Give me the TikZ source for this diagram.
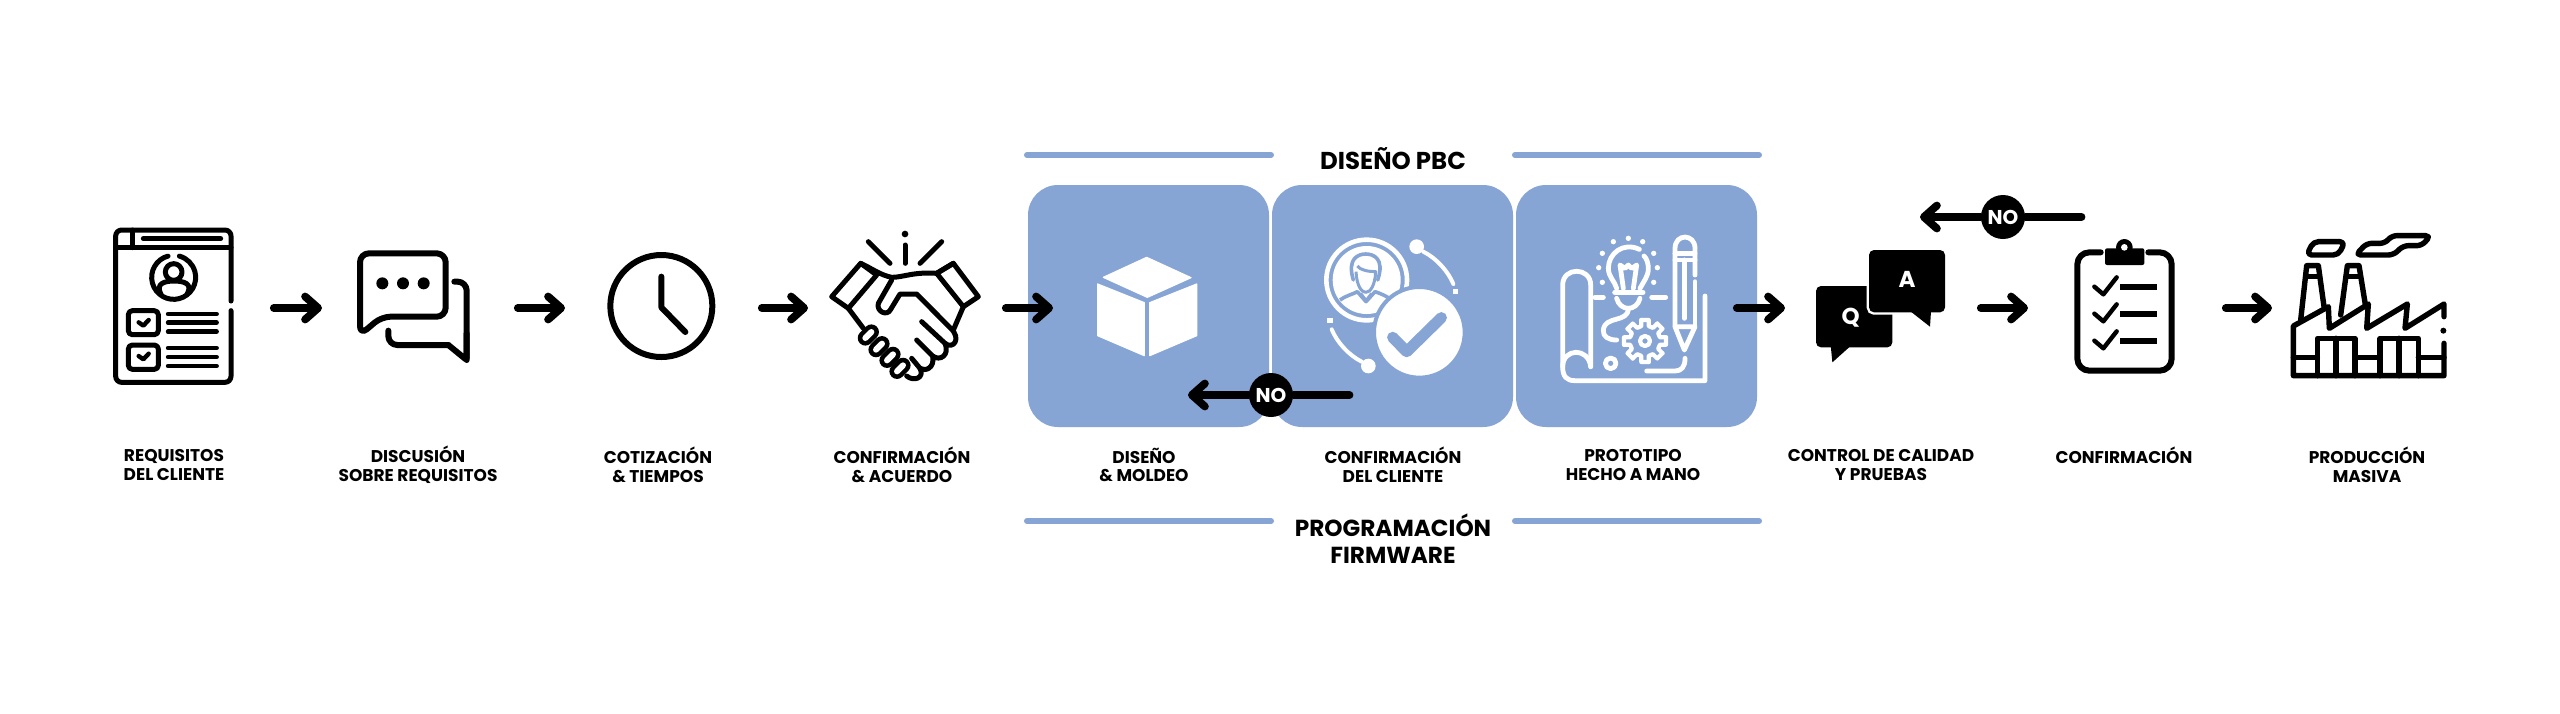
\documentclass[tikz,border=0pt]{standalone}
\usepackage{fontspec}
\setmainfont{Poppins}
\usetikzlibrary{arrows.meta}
\definecolor{pbc}{HTML}{87A5D4}
\tikzset{
  stage/.style={draw=none,fill=pbc,rounded corners=15pt,minimum width=120.5pt,minimum height=121pt,inner sep=0pt,outer sep=0pt},
  slot/.style={inner sep=0pt,outer sep=0pt,minimum height=10pt},
  flow/.style={line width=3.9pt,line cap=round,shorten <=1.9pt,-{Straight Barb[round,length=6.5pt,width=11.5pt]}},
  flowline/.style={line width=3.9pt,line cap=round},
  nobadge/.style={circle,fill=black,text=white,font=\bfseries\fontsize{10}{10}\selectfont,minimum size=22pt,inner sep=0pt},
  steplabel/.style={font=\bfseries\fontsize{8.5}{9.4}\selectfont,align=center,text=black,inner sep=0pt},
  grouptop/.style={font=\bfseries\fontsize{12.2}{13.5}\selectfont,align=center,text=black,inner sep=0pt},
  groupbot/.style={font=\bfseries\fontsize{11.6}{13.5}\selectfont,align=center,text=black,inner sep=0pt},
  groupbar/.style={line width=3pt,color=pbc,line cap=round},
  ico/.style={line cap=round,line join=round,line width=3pt,draw=black},
  icow/.style={line cap=round,line join=round,line width=2.4pt,draw=white},
  zoomA/.style={shift={(40pt,-100pt)},x=0.166667pt,y=-0.166667pt},
  zoomB/.style={shift={(280pt,-100pt)},x=0.166667pt,y=-0.166667pt},
  zoomC/.style={shift={(505pt,-65pt)},x=0.166667pt,y=-0.166667pt},
  zoomD/.style={shift={(750pt,-85pt)},x=0.166667pt,y=-0.166667pt},
  zoomE/.style={shift={(880pt,-90pt)},x=0.166667pt,y=-0.166667pt},
  zoomF/.style={shift={(1100pt,-100pt)},x=0.166667pt,y=-0.166667pt},
}
\begin{document}
\begin{tikzpicture}[x=0.5pt,y=-0.5pt]
\useasboundingbox[fill=white] (0,0) rectangle (2560,713);
% stages
\node[stage] (box1) at (1148.5,306) {};
\node[stage] (box2) at (1392.5,306) {};
\node[stage] (box3) at (1636.5,306) {};
% group bars and titles
\coordinate (t1a) at (1027,155); \coordinate (t1b) at (1271,155);
\coordinate (t2a) at (1515,155); \coordinate (t2b) at (1759,155);
\coordinate (b1a) at (1027,521); \coordinate (b1b) at (1271,521);
\coordinate (b2a) at (1515,521); \coordinate (b2b) at (1759,521);
\draw[groupbar] (t1a) -- (t1b);
\draw[groupbar] (t2a) -- (t2b);
\draw[groupbar] (b1a) -- (b1b);
\draw[groupbar] (b2a) -- (b2b);
\node[grouptop] (gtop) at (1393,159) {DISEÑO PBC};
\node[groupbot] (gbot) at (1393,539) {PROGRAMACIÓN\\FIRMWARE};
% labels
\node[steplabel] (l1) at (174,465) {REQUISITOS\\DEL CLIENTE};
\node[steplabel] (l2) at (418,465) {DISCUSIÓN\\SOBRE REQUISITOS};
\node[steplabel] (l3) at (658,465) {COTIZACIÓN\\\& TIEMPOS};
\node[steplabel] (l4) at (902,465) {CONFIRMACIÓN\\\& ACUERDO};
\node[steplabel] (l5) at (1144,465) {DISEÑO\\\& MOLDEO};
\node[steplabel] (l6) at (1393,465) {CONFIRMACIÓN\\DEL CLIENTE};
\node[steplabel] (l7) at (1633,465) {PROTOTIPO\\HECHO A MANO};
\node[steplabel] (l8) at (1881,465) {CONTROL DE CALIDAD\\Y PRUEBAS};
\node[steplabel] (l9) at (2124,455) {CONFIRMACIÓN};
\node[steplabel] (l10) at (2367,465) {PRODUCCIÓN\\MASIVA};
% slots holding the icons; arrows run from slot to slot
\node[slot,minimum width=105pt] (s1) at (165,308) {};
\node[slot,minimum width=96pt] (s2) at (418,308) {};
\node[slot,minimum width=96.5pt] (s3) at (661.5,308) {};
\node[slot,minimum width=97pt] (s4) at (905,308) {};
\node[slot,minimum width=96pt] (s8) at (1881,308) {};
\node[slot,minimum width=97pt] (s9) at (2125,308) {};
\node[slot,minimum width=100pt] (s10) at (2372,308) {};
\coordinate (s5in) at (1053,308);
\coordinate (s7out) at (1733,308);
\draw[flow] (s1.east) -- (s2.west);
\draw[flow] (s2.east) -- (s3.west);
\draw[flow] (s3.east) -- (s4.west);
\draw[flow] (s4.east) -- (s5in);
\draw[flow] (s7out) -- (s8.west);
\draw[flow] (s8.east) -- (s9.west);
\draw[flow] (s9.east) -- (s10.west);
% icon 1 and 2
\begin{scope}[zoomA,ico,line width=2.5pt]
  \draw[rounded corners=3pt] (453,303) -- (453,90) -- (107,90) -- (107,547) -- (453,547) -- (453,332);
  \draw (107,143) -- (453,143);
  \draw (158,90) -- (158,143);
  \draw (190,116) -- (422,116);
  \draw (281,232) ++(-75:66) arc[start angle=-75,end angle=30,radius=66];
  \draw (281,232) ++(-105:66) arc[start angle=-105,end angle=-330,radius=66];
  \draw (281,216) circle[radius=25];
  \draw (243,283) .. controls (225,250) and (255,243) .. (282,243) .. controls (310,243) and (340,250) .. (321,283);
  \draw[rounded corners=2pt] (145,332) rectangle (235,404);
  \draw[rounded corners=2pt] (145,435) rectangle (235,508);
  \draw[line width=2.2pt] (176,367) -- (190,377) -- (206,360);
  \draw[line width=2.2pt] (176,468) -- (190,478) -- (206,461);
  \foreach \yy in {342,368,395,444,471,498} \draw[line width=2.2pt] (264,\yy) -- (410,\yy);
  \begin{scope}[line width=3pt]
  \draw[rounded corners=4.5pt] (840,405) -- (840,160) -- (1097,160) -- (1097,350) -- (905,350) -- cycle;
  \draw[rounded corners=4.5pt] (1123,245) -- (1160,245) -- (1160,480);
  \draw[rounded corners=0.8pt] (1160,400) -- (1160,480) -- (1105,435);
  \draw[rounded corners=4.5pt] (1105,435) -- (925,435) -- (925,392);
  \end{scope}
  \foreach \xx in {907,969,1031} \fill (\xx,250) circle[radius=18];
\end{scope}
% clock and handshake
\begin{scope}[zoomB,ico]
  \draw (304,318) circle[radius=153];
  \draw (304,230) -- (304,322) -- (376,396);
  \begin{scope}[line width=2.5pt]
  \fill (1035,102) circle[radius=10];
  \draw (1035,135) -- (1035,190);
  \draw (925,125) -- (990,190);
  \draw (1145,125) -- (1080,190);
  \draw (815,290) -- (902,190) -- (950,225) -- (865,325) -- cycle;
  \draw (1255,290) -- (1180,190) -- (1130,220) -- (1210,320) -- cycle;
  \draw (902,190) .. controls (935,205) and (960,225) .. (995,232) .. controls (1030,232) and (1060,215) .. (1130,220);
  \draw (1130,220) -- (1180,190);
  \draw (865,325) -- (910,385);
  \draw (1210,320) -- (1180,390);
  \draw (995,240) -- (955,310) .. controls (948,335) and (982,350) .. (992,328) -- (1020,282) -- (1070,282) -- (1172,385) .. controls (1205,415) and (1180,450) .. (1155,430) -- (1085,365);
  \draw (1155,430) .. controls (1170,465) and (1140,485) .. (1118,468) -- (1070,420);
  \draw (1118,468) .. controls (1125,505) and (1095,515) .. (1080,505) -- (1055,475);
  \draw (1080,505) .. controls (1095,535) and (1060,545) .. (1040,528);
  \foreach \cx/\cy in {925/405,957/440,990/472,1020/505}
    \draw[black,line width=7.6pt] (\cx-9,\cy+9) -- (\cx+9,\cy-9);
  \foreach \cx/\cy in {925/405,957/440,990/472,1020/505}
    \draw[white,line width=3pt] (\cx-9,\cy+9) -- (\cx+9,\cy-9);
  \end{scope}
\end{scope}
% cube, client, NO
\begin{scope}[zoomC]
  \fill[white,draw=white,line width=0.6pt,line join=round] (410,382) -- (543,443) -- (412,502) -- (280,442) -- cycle;
  \fill[white,draw=white,line width=0.6pt,line join=round] (263,462) -- (403,518) -- (403,677) -- (263,617) -- cycle;
  \fill[white,draw=white,line width=0.6pt,line join=round] (560,462) -- (419,518) -- (419,677) -- (560,617) -- cycle;
  \draw[white,line width=2.3pt] (1070,450) circle[radius=121];
  \fill[white] (1070,450) circle[radius=102];
  \begin{scope}
    \clip (1070,450) circle[radius=102];
    \draw[pbc,line width=1.8pt,line join=round] (990,510) .. controls (1005,498) and (1030,492) .. (1042,485) -- (1068,515) -- (1095,485) .. controls (1110,490) and (1130,498) .. (1145,510);
  \end{scope}
  \draw[pbc,line width=1.8pt,line join=round,line cap=round] (1030,450) .. controls (1010,385) and (1045,372) .. (1067,372) .. controls (1090,372) and (1125,385) .. (1103,450);
  \draw[pbc,line width=1.5pt,line join=round] (1038,425) .. controls (1040,468) and (1055,487) .. (1067,487) .. controls (1080,487) and (1095,468) .. (1097,425) .. controls (1075,425) and (1050,420) .. (1042,408);
  \draw[pbc,line width=1.5pt,line join=round] (1052,490) -- (1068,512) -- (1085,490);
  \fill[white,draw=pbc,line width=2pt] (1228,607) circle[radius=136];
  \draw[pbc,line width=5.6pt,line cap=round,line join=round] (1148,622) -- (1190,665) -- (1294,563);
  \fill[white] (1220,350) circle[radius=22];
  \fill[white] (1075,708) circle[radius=22];
  \draw[white,line width=2pt,line cap=round] (1240,365) .. controls (1280,385) and (1315,425) .. (1330,462);
  \draw[white,line width=2pt,line cap=round] (1055,695) .. controls (1015,675) and (980,635) .. (965,598);
  \fill[white] (1329,477) rectangle (1345,493);
  \fill[white] (952,563) rectangle (968,579);
\end{scope}
% prototype
\begin{scope}[zoomD,icow]
  \draw (272,590) -- (272,345) .. controls (272,290) and (188,290) .. (188,345) -- (188,590) .. controls (188,620) and (200,632) .. (225,632) -- (615,632) -- (615,378);
  \draw (272,590) .. controls (265,530) and (188,535) .. (188,590);
  \draw (285,382) -- (310,382);
  \draw (455,382) -- (497,382);
  \draw (440,603) -- (525,603) .. controls (545,603) and (555,590) .. (555,565);
  \draw (418,238) .. controls (370,215) and (325,250) .. (325,295) .. controls (325,320) and (345,335) .. (350,355);
  \draw (420,355) .. controls (430,335) and (445,320) .. (445,295) .. controls (445,280) and (440,265) .. (432,258);
  \draw[line width=2.8pt] (345,367) -- (428,367);
  \draw (350,385) .. controls (360,425) and (410,425) .. (420,385);
  \draw (385,415) .. controls (385,460) and (315,435) .. (310,480) .. controls (308,500) and (325,510) .. (350,510);
  \draw (370,355) -- (360,285) -- (375,295) -- (385,285) -- (395,295) -- (410,285) -- (400,355);
  \foreach \dx/\dy in {340/215,385/205,428/215,307/250,461/250,296/293,472/293,307/337,461/337} \fill[white] (\dx,\dy) circle[radius=8];
  \draw (332,580) circle[radius=16];
  \begin{scope}[shift={(435,513)}]
    \foreach \aa in {0,45,...,315}
      \draw[line width=2.1pt] (\aa-10:64) -- (\aa+10:64) -- (\aa+14:46) -- (\aa+31:46) -- (\aa+35:64);
    \draw[line width=2.1pt] (0,0) circle[radius=15];
  \end{scope}
  \draw (525,470) -- (525,235) .. controls (525,190) and (585,190) .. (585,235) -- (585,315);
  \draw (585,335) -- (585,470);
  \draw (525,250) -- (585,250);
  \draw (525,270) -- (585,270);
  \draw (553,270) -- (553,445);
  \draw (525,470) -- (553,540) -- (585,470) -- cycle;
\end{scope}
% QA and clipboard
\begin{scope}[zoomE]
  \fill[rounded corners=2.5pt] (168,318) rectangle (397,502);
  \fill[line join=round] (212,495) -- (217,547) -- (275,495) -- cycle;
  \node[font=\bfseries\fontsize{11.5}{11.5}\selectfont,text=white,inner sep=0pt] (qq) at (272,414) {Q};
  \fill[rounded corners=2.5pt,draw=white,line width=2.4pt] (327,210) rectangle (555,397);
  \fill[rounded corners=2.5pt] (327,210) rectangle (555,397);
  \fill (450,393) -- (510,440) -- (513,393) -- cycle;
  \node[font=\bfseries\fontsize{11.5}{11.5}\selectfont,text=white,inner sep=0pt] (aa) at (441,297) {A};
  \begin{scope}[ico]
    \draw[rounded corners=6pt] (1022,217) -- (952,217) -- (952,572) -- (1235,572) -- (1235,217) -- (1165,217);
    \draw[line width=2.2pt] (1003,320) -- (1030,343) -- (1070,292);
    \draw[line width=2.2pt] (1003,401) -- (1030,424) -- (1070,373);
    \draw[line width=2.2pt] (1003,482) -- (1030,505) -- (1070,454);
    \foreach \yy in {322,403,484} \draw[line cap=butt] (1080,\yy) -- (1192,\yy);
  \end{scope}
  \fill[rounded corners=1pt] (1035,205) rectangle (1153,255);
  \fill (1093,202) circle[radius=25];
  \fill[white] (1093,202) circle[radius=10];
\end{scope}
% factory
\begin{scope}[zoomF,ico,line width=2.7pt]
  \draw (732,430) -- (732,527) -- (280,527) -- (280,378) -- (385,320) -- (388,385) -- (505,312) -- (500,385) -- (622,312) -- (615,385) -- (732,312) -- (732,350);
  \fill (730,392) circle[radius=9];
  \draw (302,360) -- (320,197) -- (355,197) -- (372,320);
  \draw (422,345) -- (442,197) -- (477,197) -- (497,320);
  \draw (322,230) -- (355,230);
  \draw (444,230) -- (477,230);
  \draw (352,527) -- (352,415) -- (465,415) -- (465,527);
  \draw (408,415) -- (408,527);
  \draw (540,527) -- (540,415) -- (655,415) -- (655,527);
  \draw (597,415) -- (597,527);
  \draw (280,472) -- (352,472);
  \draw (465,472) -- (540,472);
  \draw (655,472) -- (732,472);
  \draw[rounded corners=2.5pt] (320,165) -- (340,125) -- (435,125) -- (415,165) -- cycle;
  \draw[rounded corners=2.5pt] (467,165) -- (500,130) -- (555,130) -- (575,107) -- (692,107) -- (665,137) -- (610,137) -- (580,165) -- cycle;
\end{scope}
% NO loops
\node[nobadge] (no1) at (1271,395) {NO};
\coordinate (no1from) at (1349.5,395);
\coordinate (no1to) at (1188,395);
\draw[flowline] (no1from) -- (no1);
\draw[flow,shorten <=0pt] (no1) -- (no1to);
\node[nobadge] (no2) at (2003,217) {NO};
\coordinate (no2from) at (2081.5,217);
\coordinate (no2to) at (1920,217);
\draw[flowline] (no2from) -- (no2);
\draw[flow,shorten <=0pt] (no2) -- (no2to);
\end{tikzpicture}
\end{document}
